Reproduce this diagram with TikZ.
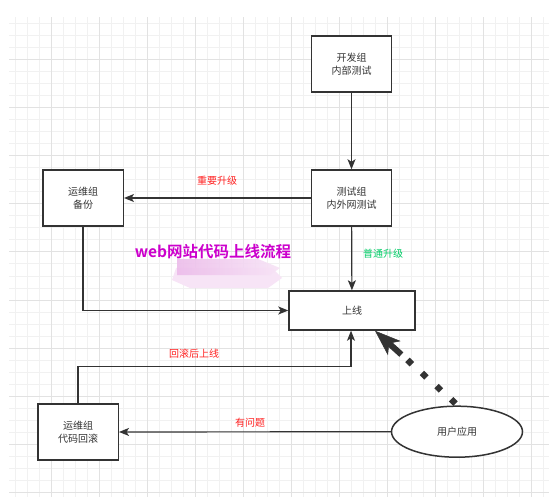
\documentclass[tikz,border=0pt]{standalone}
\usepackage{fontspec}
\newfontfamily\cjk{Noto Sans CJK SC}
\newfontfamily\cjkbold{Noto Sans CJK SC Bold}
\usetikzlibrary{arrows.meta,shapes.geometric,calc}
\definecolor{ink}{HTML}{333333}
\definecolor{gridminor}{HTML}{F1F1F1}
\definecolor{gridmajor}{HTML}{E2E2E2}
\definecolor{labelred}{HTML}{FF2222}
\definecolor{labelgreen}{HTML}{00CC66}
\definecolor{titlepink}{HTML}{CC00CC}
\definecolor{smearA}{HTML}{ECBCEA}
\definecolor{smearB}{HTML}{F7E4F6}
\tikzset{
  box/.style={draw=ink, line width=1.5pt, fill=white, minimum width=80pt, minimum height=56pt,
    align=center, font=\cjk\fontsize{10pt}{12.7pt}\selectfont, text=ink, inner sep=0pt},
  flow/.style={draw=ink, line width=1.2pt, -{Stealth[length=10pt,width=8pt,inset=2.5pt]}},
  edgelabel/.style={font=\cjk\fontsize{10pt}{12pt}\selectfont, inner sep=0pt},
  dotmark/.style={diamond, fill=ink, inner sep=0pt, minimum width=9pt, minimum height=9pt},
}
\begin{document}
\begin{tikzpicture}[x=1pt,y=-1pt]
\useasboundingbox (0,0) rectangle (549,497);
\fill[white] (0,0) rectangle (549,497);
% background grid
\begin{scope}
  \clip (9,18) rectangle (549,497);
  \foreach \i in {0,...,46} \draw[gridminor, line width=1pt] ({3.6+12*\i},0) -- ({3.6+12*\i},497);
  \foreach \j in {0,...,42} \draw[gridminor, line width=1pt] (0,{12*\j}) -- (549,{12*\j});
  \foreach \i in {0,...,11} \draw[gridmajor, line width=1pt] ({3.6+48*\i},0) -- ({3.6+48*\i},497);
  \foreach \j in {0,...,10} \draw[gridmajor, line width=1pt] (0,{12+48*\j}) -- (549,{12+48*\j});
\end{scope}

% nodes
\node[box] (dev) at (351.5,64) {开发组\\内部测试};
\node[box] (test) at (351.5,198) {测试组\\内外网测试};
\node[box, minimum width=80.5pt] (backup) at (83,198) {运维组\\备份};
\node[box, minimum width=126pt, minimum height=39pt] (online) at (352,310.5) {上线};
\node[box, minimum width=80.5pt] (rollback) at (78,432) {运维组\\代码回滚};
\node[ellipse, draw=ink, line width=1.5pt, fill=white, minimum width=131pt, minimum height=51pt,
  inner sep=0pt, font=\cjk\fontsize{10pt}{12pt}\selectfont, text=ink] (user) at (457,431.7) {用户应用};

% title and the smear beneath it
\fill[smearB] (176,268) -- (272,268) -- (282,278) -- (268,288) -- (190,288) -- (172,280) -- cycle;
\shade[left color=smearA, right color=smearB, opacity=0.9] (177,259) -- (258,259) -- (280,268) -- (270,275) -- (177,275) -- cycle;
\node[font=\cjkbold\fontsize{15.5pt}{18pt}\selectfont, text=titlepink, inner sep=0pt] (title) at (213,251.7) {web网站代码上线流程};

% connectors
\draw[flow] (dev) -- (test);
\draw[flow] (test) -- (backup);
\draw[flow] (test) -- (online);
\draw[flow] (backup.south) |- (online.west);
\coordinate (rbturn) at ($(rollback.north)+(0,-37)$);
\draw[flow] (rollback.north) -- (rbturn) -| ($(online.south)+(-1,0)$);
\draw[flow] (user) -- (rollback);

% user feedback: a row of diamond dots ending in a heavy arrow
\coordinate (fbstart) at ($(user.north)+(-3.7,-4)$);
\coordinate (fbend) at ($(online.south)+(23,0)$);
\foreach \k in {0,1,2,3}
  \node[dotmark] (fbdot\k) at ($(fbstart)!{\k*19.6pt}!(fbend)$) {};
\draw[ink, line width=6pt,
  -{Stealth[length=26pt,width=19pt,inset=7pt,line width=0.5pt]}]
  ($(fbstart)!70pt!(fbend)$) -- (fbend);

% edge labels
\node[edgelabel, text=labelred] (lblmajor) at (217,181) {重要升级};
\node[edgelabel, text=labelgreen] (lblnormal) at (383,254) {普通升级};
\node[edgelabel, text=labelred] (lblback) at (194,354) {回滚后上线};
\node[edgelabel, text=labelred] (lblissue) at (250,422.7) {有问题};
\end{tikzpicture}
\end{document}
